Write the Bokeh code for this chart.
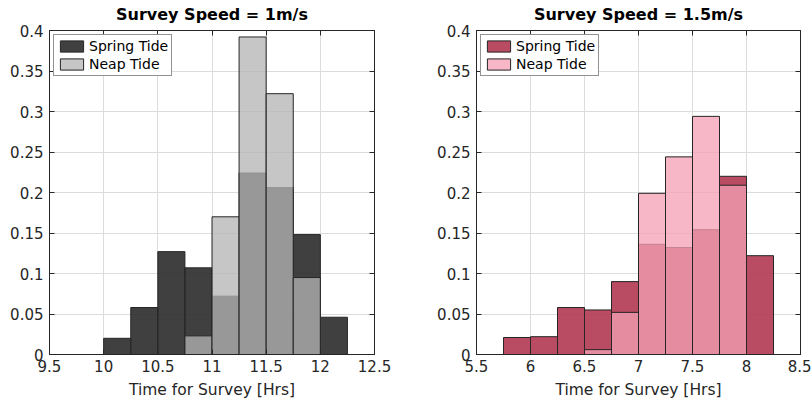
from bokeh.plotting import figure
from bokeh.layouts import row
from bokeh.models import (Range1d, FixedTicker, LinearAxis, Legend, LegendItem,
                          CustomLabelingPolicy)
from bokeh.embed import file_html
from bokeh.resources import INLINE

# ---------------- data ----------------
bin_width = 0.25

edges_1 = [10.0, 10.25, 10.5, 10.75, 11.0, 11.25, 11.5, 11.75, 12.0]
spring_1 = [0.020, 0.058, 0.127, 0.107, 0.072, 0.224, 0.206, 0.148, 0.046]
neap_1 = [0.0, 0.0, 0.0, 0.023, 0.170, 0.392, 0.322, 0.095, 0.0]

edges_2 = [5.75, 6.0, 6.25, 6.5, 6.75, 7.0, 7.25, 7.5, 7.75, 8.0]
spring_2 = [0.021, 0.022, 0.058, 0.055, 0.090, 0.136, 0.132, 0.154, 0.220, 0.122]
neap_2 = [0.0, 0.0, 0.0, 0.006, 0.052, 0.199, 0.244, 0.294, 0.209, 0.0]

xticks_1 = [9.5, 10, 10.5, 11, 11.5, 12, 12.5]
xlabels_1 = ["9.5", "10", "10.5", "11", "11.5", "12", "12.5"]
xticks_2 = [5.5, 6, 6.5, 7, 7.5, 8, 8.5]
xlabels_2 = ["5.5", "6", "6.5", "7", "7.5", "8", "8.5"]
yticks = [0, 0.05, 0.1, 0.15, 0.2, 0.25, 0.3, 0.35, 0.4]
ylabels = ["0", "0.05", "0.1", "0.15", "0.2", "0.25", "0.3", "0.35", "0.4"]

titles = ["Survey Speed = 1m/s", "Survey Speed = 1.5m/s"]
series_names = ["Spring Tide", "Neap Tide"]
xlabel = "Time for Survey [Hrs]"

FONT = "DejaVu Sans"
AX = "#262626"


def make_panel(title, edges, spring, neap, xticks, xlabels, xr, spring_col, neap_col,
               width, border_left, border_right):
    p = figure(width=width, height=402, output_backend="svg", toolbar_location=None,
               x_range=Range1d(*xr), y_range=Range1d(0, 0.4),
               min_border_left=border_left, min_border_right=border_right,
               min_border_top=30, min_border_bottom=48)
    p.background_fill_color = "white"
    p.border_fill_color = "white"
    p.outline_line_color = AX
    p.outline_line_width = 1

    p.title.text = title
    p.title.text_font = FONT
    p.title.text_font_size = "16px"
    p.title.text_font_style = "bold"
    p.title.align = "center"
    p.title.text_color = "black"
    p.title.standoff = 5

    # histograms
    s_left = list(edges)
    s_right = [e + bin_width for e in edges]
    r_s = p.quad(left=s_left, right=s_right, bottom=0, top=spring,
                 fill_color=spring_col[0], fill_alpha=spring_col[1],
                 line_color=AX, line_width=1)
    n_idx = [i for i, v in enumerate(neap) if v > 0]
    r_n = p.quad(left=[edges[i] for i in n_idx],
                 right=[edges[i] + bin_width for i in n_idx],
                 bottom=0, top=[neap[i] for i in n_idx],
                 fill_color=neap_col[0], fill_alpha=neap_col[1],
                 line_color=AX, line_width=1)

    # axes
    xt = FixedTicker(ticks=xticks)
    yt = FixedTicker(ticks=yticks)
    p.xaxis.ticker = xt
    p.yaxis.ticker = yt
    p.xaxis.major_label_overrides = {float(t): l for t, l in zip(xticks, xlabels)}
    p.yaxis.major_label_overrides = {float(t): l for t, l in zip(yticks, ylabels)}
    p.xaxis.axis_label = xlabel
    for ax in (p.xaxis[0], p.yaxis[0]):
        ax.axis_line_color = AX
        ax.major_tick_line_color = AX
        ax.major_tick_in = 5
        ax.major_tick_out = 0
        ax.minor_tick_line_color = None
        ax.major_label_text_font = FONT
        ax.major_label_text_font_size = "15px"
        ax.major_label_text_color = AX
        ax.axis_label_text_font = FONT
        ax.axis_label_text_font_size = "15.5px"
        ax.axis_label_text_font_style = "normal"
        ax.axis_label_text_color = AX
    p.yaxis.major_label_standoff = 6
    p.xaxis.major_label_standoff = 5
    p.xaxis.axis_label_standoff = 6

    hide = "for (const i of Array.from(indices)) { indices.unset(i) }\nreturn indices"
    for loc, tk in (("right", yt), ("above", xt)):
        ax = LinearAxis(ticker=tk, axis_line_color=AX, major_tick_line_color=AX,
                        major_tick_in=5, major_tick_out=0, minor_tick_line_color=None,
                        major_label_standoff=0, major_label_text_font_size="1px",
                        major_label_policy=CustomLabelingPolicy(code=hide))
        p.add_layout(ax, loc)

    p.xgrid.ticker = xt
    p.ygrid.ticker = yt
    for g in (p.xgrid[0], p.ygrid[0]):
        g.grid_line_color = "#dcdcdc"
        g.grid_line_width = 1

    legend = Legend(items=[LegendItem(label=series_names[0], renderers=[r_s]),
                           LegendItem(label=series_names[1], renderers=[r_n])],
                    location="top_left")
    legend.label_text_font = FONT
    legend.label_text_font_size = "14px"
    legend.label_text_color = "black"
    legend.glyph_width = 29
    legend.glyph_height = 14
    legend.label_standoff = 3
    legend.label_height = 16
    legend.spacing = 2
    legend.padding = 3
    legend.margin = 4
    legend.border_line_color = AX
    legend.border_line_width = 1.5
    legend.background_fill_color = "white"
    legend.background_fill_alpha = 1
    p.add_layout(legend)
    return p


p1 = make_panel(titles[0], edges_1, spring_1, neap_1, xticks_1, xlabels_1, (9.5, 12.5),
                ("#2b2b2b", 0.9), ("#b4b4b4", 0.76), 405, 49, 31)
p2 = make_panel(titles[1], edges_2, spring_2, neap_2, xticks_2, xlabels_2, (5.5, 8.5),
                ("#b13751", 0.9), ("#f4a1b4", 0.76), 406, 71, 11)

layout = row(p1, p2)
open("out.html", "w").write(file_html(layout, INLINE))
